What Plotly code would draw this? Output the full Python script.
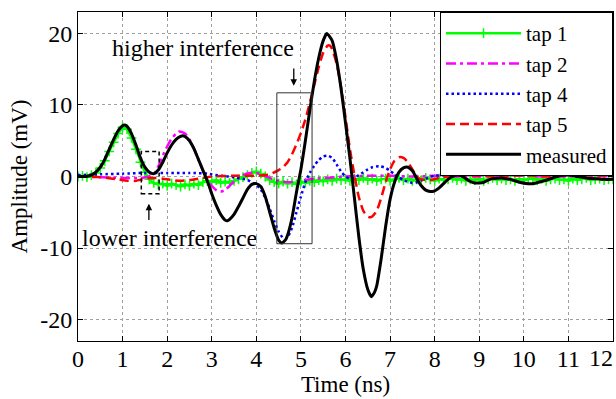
import plotly.graph_objects as go

# ---------------- data ----------------
tap1_t = [0.0, 0.1, 0.2, 0.3, 0.4, 0.5, 0.6, 0.7, 0.8, 0.9, 1.0, 1.1, 1.2, 1.3, 1.4, 1.5,
          1.6, 1.7, 1.8, 1.9, 2.0, 2.1, 2.2, 2.3, 2.4, 2.5, 2.6, 2.7, 2.8, 2.9, 3.0, 3.1,
          3.2, 3.3, 3.4, 3.5, 3.6, 3.7, 3.8, 3.9, 4.0, 4.1, 4.2, 4.3, 4.4, 4.5, 4.6, 4.7,
          4.8, 4.9, 5.0, 5.1, 5.2, 5.3, 5.4, 5.5, 5.6, 5.7, 5.8, 5.9, 6.0, 6.1, 6.2, 6.3,
          6.4, 6.5, 6.6, 6.7, 6.8, 6.9, 7.0, 7.1, 7.2, 7.3, 7.4, 7.5, 7.6, 7.7, 7.8, 7.9,
          8.0, 8.1, 8.2, 8.3, 8.4, 8.5, 8.6, 8.7, 8.8, 8.9, 9.0, 9.1, 9.2, 9.3, 9.4, 9.5,
          9.6, 9.7, 9.8, 9.9, 10.0, 10.1, 10.2, 10.3, 10.4, 10.5, 10.6, 10.7, 10.8, 10.9,
          11.0, 11.1, 11.2, 11.3, 11.4, 11.5, 11.6, 11.7, 11.8, 11.9, 12.0]
tap1_v = [0.0, 0.1, -0.1, 0.2, 0.5, 1.2, 2.2, 3.5, 4.8, 6.0, 6.9, 6.6, 5.4, 3.8, 2.0, 0.6,
          -0.4, -0.9, -1.1, -1.0, -1.3, -1.0, -1.2, -1.4, -1.1, -1.3, -1.0, -1.2, -0.8, -0.6, -0.8, -0.5,
          -0.9, -0.7, -0.9, -0.6, -0.4, -0.1, 0.2, 0.5, 0.7, 0.4, 0.0, -0.5, -0.8, -1.0, -0.7, -1.0,
          -0.8, -1.1, -0.7, -0.9, -0.6, -0.8, -0.5, -0.7, -0.4, -0.6, -0.3, -0.5, -0.4, -0.6, -0.3, -0.5,
          -0.2, -0.5, -0.3, -0.6, -0.4, -0.3, -0.6, -0.4, -0.2, -0.5, -0.3, -0.6, -0.4, -0.5, -0.2, -0.4,
          -0.6, -0.3, -0.5, -0.4, -0.2, -0.5, -0.3, -0.6, -0.4, -0.5, -0.3, -0.6, -0.4, -0.2, -0.5, -0.3,
          -0.5, -0.4, -0.6, -0.3, -0.5, -0.4, -0.2, -0.5, -0.3, -0.6, -0.4, -0.3, -0.5, -0.4,
          -0.6, -0.3, -0.5, -0.4, -0.2, -0.5, -0.4, -0.3, -0.5, -0.4, -0.4]

tap2_t = [0.0, 0.5, 1.0, 1.4, 1.6, 1.7, 1.8, 1.9, 2.0, 2.1, 2.2, 2.27, 2.4, 2.5, 2.6, 2.7,
          2.8, 2.9, 3.0, 3.1, 3.2, 3.3, 3.4, 3.5, 3.6, 3.7, 3.85, 4.0, 4.15, 4.3, 4.5, 4.7,
          4.9, 5.1, 5.3, 5.6, 6.0, 6.5, 7.0, 7.5, 8.0, 8.5, 9.0, 9.5, 10.0, 10.5, 11.0, 11.5, 12.0]
tap2_v = [0.0, -0.1, -0.2, -0.2, 0.0, 0.3, 1.4, 2.9, 4.2, 5.3, 6.0, 6.3, 6.0, 5.2, 3.9, 2.4,
          0.9, -0.4, -1.3, -1.9, -2.1, -1.9, -1.3, -0.7, -0.2, 0.2, 0.5, 0.5, 0.2, -0.2, -0.6, -0.8,
          -0.7, -0.5, -0.3, -0.2, 0.0, 0.1, 0.1, 0.0, 0.1, 0.0, 0.0, 0.1, 0.1, 0.0, 0.0, 0.1, 0.0]

tap4_t = [0.0, 0.5, 1.0, 1.5, 2.0, 2.5, 2.9, 3.2, 3.5, 3.8, 4.0, 4.1, 4.2, 4.3, 4.4, 4.5,
          4.6, 4.65, 4.7, 4.8, 4.9, 5.0, 5.1, 5.2, 5.3, 5.4, 5.5, 5.6, 5.7, 5.8, 5.9, 6.0,
          6.1, 6.2, 6.3, 6.4, 6.5, 6.6, 6.75, 6.9, 7.0, 7.1, 7.2, 7.3, 7.5, 7.6, 7.8, 8.0,
          8.5, 9.0, 10.0, 11.0, 12.0]
tap4_v = [0.2, 0.3, 0.4, 0.5, 0.5, 0.5, 0.4, 0.1, -0.1, -0.5, -1.2, -1.8, -3.0, -4.5, -6.2, -7.7,
          -8.6, -8.7, -8.5, -7.2, -5.0, -2.8, -0.8, 0.5, 1.5, 2.3, 2.8, 2.9, 2.6, 1.7, 0.7, 0.0,
          -0.3, -0.2, 0.2, 0.6, 1.0, 1.3, 1.45, 1.2, 0.8, 0.3, -0.1, -0.5, -0.9, -0.8, -0.3, 0.1,
          0.2, 0.3, 0.3, 0.3, 0.3]

tap5_t = [0.0, 0.5, 0.9, 1.1, 1.3, 1.5, 1.7, 1.9, 2.1, 2.3, 2.5, 2.8, 3.0, 3.5, 4.0, 4.3,
          4.5, 4.6, 4.7, 4.8, 4.9, 5.0, 5.1, 5.2, 5.3, 5.4, 5.5, 5.6, 5.65, 5.7, 5.8, 5.9,
          6.0, 6.1, 6.2, 6.3, 6.4, 6.5, 6.55, 6.6, 6.7, 6.8, 6.9, 7.0, 7.1, 7.2, 7.3, 7.4,
          7.5, 7.6, 7.7, 7.9, 8.1, 8.3, 8.6, 9.0, 9.5, 10.0, 10.5, 11.0, 12.0]
tap5_v = [0.0, -0.1, -0.4, -0.6, -0.6, -0.3, -0.2, -0.3, -0.5, -0.6, -0.5, -0.2, 0.0, 0.1, 0.1, 0.3,
          0.9, 1.3, 2.0, 3.1, 4.5, 6.1, 8.0, 10.3, 12.8, 15.3, 17.3, 18.3, 18.3, 17.8, 15.8, 12.5,
          8.3, 3.8, 0.2, -2.9, -4.8, -5.6, -5.7, -5.6, -4.8, -3.0, -0.8, 1.0, 2.2, 2.7, 2.6, 2.0,
          1.0, 0.0, -0.4, -0.5, -0.2, 0.0, 0.2, 0.1, 0.0, 0.2, 0.0, 0.2, 0.1]

meas_t = [0.0, 0.2, 0.3, 0.4, 0.5, 0.6, 0.7, 0.8, 0.9, 1.0, 1.05, 1.1, 1.2, 1.3, 1.4, 1.5,
          1.6, 1.7, 1.8, 1.9, 2.0, 2.1, 2.2, 2.3, 2.35, 2.4, 2.5, 2.6, 2.7, 2.8, 2.9, 3.0,
          3.1, 3.2, 3.3, 3.35, 3.4, 3.5, 3.6, 3.7, 3.8, 3.9, 4.0, 4.1, 4.2, 4.3, 4.4, 4.5,
          4.57, 4.65, 4.7, 4.8, 4.9, 5.0, 5.1, 5.2, 5.3, 5.4, 5.5, 5.58, 5.7, 5.8, 5.9, 6.0,
          6.1, 6.2, 6.3, 6.4, 6.5, 6.58, 6.65, 6.7, 6.8, 6.9, 7.0, 7.1, 7.2, 7.3, 7.4, 7.5,
          7.6, 7.7, 7.8, 7.9, 8.0, 8.1, 8.2, 8.3, 8.4, 8.5, 8.6, 8.7, 8.8, 8.9, 9.0, 9.1,
          9.2, 9.3, 9.5, 9.7, 9.9, 10.1, 10.2, 10.4, 10.6, 10.8, 11.0, 11.2, 11.4, 11.6, 11.8, 12.0]
meas_v = [0.0, 0.05, 0.2, 0.6, 1.3, 2.4, 3.8, 5.2, 6.4, 7.1, 7.2, 7.0, 6.0, 4.4, 2.6, 1.3,
          0.6, 0.4, 0.9, 2.0, 3.3, 4.4, 5.2, 5.6, 5.7, 5.6, 5.0, 3.9, 2.4, 0.9, -0.6, -2.4,
          -4.0, -5.3, -6.1, -6.2, -6.0, -5.3, -4.2, -3.0, -1.8, -1.1, -1.0, -1.4, -2.8, -5.0, -7.2, -8.9,
          -9.3, -8.9, -8.2, -5.8, -2.2, 1.0, 5.0, 9.3, 13.3, 16.6, 19.0, 20.0, 19.0, 16.3, 12.3, 7.5,
          2.5, -3.0, -8.5, -13.0, -15.8, -16.8, -16.2, -15.3, -11.5, -7.0, -3.2, -0.8, 0.6, 1.2, 1.3, 0.8,
          -0.3, -1.3, -1.9, -2.1, -2.0, -1.6, -1.0, -0.4, 0.0, 0.2, 0.1, -0.3, -0.7, -0.9, -0.9, -0.8,
          -0.5, -0.3, -0.2, -0.4, -0.8, -1.0, -1.0, -0.7, -0.3, 0.1, 0.2, 0.0, -0.2, -0.3, -0.4, -0.4]

x_ticks = [0, 1, 2, 3, 4, 5, 6, 7, 8, 9, 10, 11, 12]
x_tick_labels = ["0", "1", "2", "3", "4", "5", "6", "7", "8", "9", "10", "11", "12"]
y_ticks = [-20, -10, 0, 10, 20]

FONT = "Liberation Serif, Times New Roman, serif"

fig = go.Figure()
fig.add_trace(go.Scatter(x=tap1_t, y=tap1_v, name="tap 1", mode="lines+markers",
                         line=dict(color="#00ff00", width=2.5),
                         marker=dict(symbol="cross-thin", size=7,
                                     line=dict(color="#00ff00", width=1.5))))
fig.add_trace(go.Scatter(x=tap2_t, y=tap2_v, name="tap 2", mode="lines",
                         line=dict(color="#ff00ff", width=2.5, dash="10px,4px,3px,4px",
                                   shape="spline", smoothing=0.6)))
fig.add_trace(go.Scatter(x=tap4_t, y=tap4_v, name="tap 4", mode="lines",
                         line=dict(color="#0000ff", width=2.5, dash="2.5px,3px",
                                   shape="spline", smoothing=0.6)))
fig.add_trace(go.Scatter(x=tap5_t, y=tap5_v, name="tap 5", mode="lines",
                         line=dict(color="#ff0000", width=2.5, dash="9px,5px",
                                   shape="spline", smoothing=0.6)))
fig.add_trace(go.Scatter(x=meas_t, y=meas_v, name="measured", mode="lines",
                         line=dict(color="#000000", width=3, shape="spline", smoothing=0.5)))

# interference boxes
fig.add_shape(type="rect", xref="x", yref="y", x0=4.46, x1=5.25, y0=-9.4, y1=11.7,
              line=dict(color="#333333", width=1), layer="above")
fig.add_shape(type="rect", xref="x", yref="y", x0=1.42, x1=1.82, y0=-2.4, y1=3.5,
              line=dict(color="#000000", width=1.5, dash="4px,3px"), layer="above")

fig.add_annotation(x=2.81, y=18.0, xref="x", yref="y", text="higher interference",
                   showarrow=False, font=dict(family=FONT, size=24, color="black"))
fig.add_annotation(x=2.06, y=-8.6, xref="x", yref="y", text="lower interference",
                   showarrow=False, font=dict(family=FONT, size=24, color="black"))
# arrows pointing at the boxes
fig.add_annotation(x=4.84, y=12.7, ax=4.84, ay=15.3, xref="x", yref="y", axref="x", ayref="y",
                   text="", showarrow=True, arrowhead=2, arrowsize=1, arrowwidth=1.3,
                   arrowcolor="black", standoff=0, startstandoff=0)
fig.add_annotation(x=1.59, y=-3.8, ax=1.59, ay=-6.3, xref="x", yref="y", axref="x", ayref="y",
                   text="", showarrow=True, arrowhead=2, arrowsize=1, arrowwidth=1.3,
                   arrowcolor="black", standoff=0, startstandoff=0)

# last x tick label, nudged left so it stays inside the page (as in the original)
fig.add_annotation(x=1, y=0, xref="paper", yref="paper", xanchor="right", yanchor="top",
                   xshift=2, yshift=-2, text=x_tick_labels[-1], showarrow=False,
                   font=dict(family=FONT, size=24, color="black"))

axis_common = dict(showline=True, linecolor="black", linewidth=1, mirror="ticks",
                   ticks="inside", ticklen=5, tickcolor="black", tickwidth=1,
                   showgrid=True, gridcolor="#a0a0a0", gridwidth=1, griddash="dot",
                   zeroline=False, automargin=False, ticklabeloverflow="allow",
                   tickfont=dict(family=FONT, size=24, color="black"))

fig.update_xaxes(range=[0, 12], tickvals=x_ticks, ticktext=x_tick_labels[:-1] + [""],
                 ticklabelstandoff=-4,
                 title=dict(text="Time (ns)", font=dict(family=FONT, size=23, color="black"),
                            standoff=0),
                 **axis_common)
fig.update_yaxes(range=[-23, 23], tickvals=y_ticks, ticktext=[str(v) for v in y_ticks],
                 title=dict(text="Amplitude (mV)", font=dict(family=FONT, size=23, color="black"),
                            standoff=6),
                 **axis_common)

fig.update_layout(
    width=616, height=399,
    margin=dict(l=78, r=3, t=12, b=58),
    paper_bgcolor="white", plot_bgcolor="white",
    font=dict(family=FONT, size=22, color="black"),
    legend=dict(x=1, y=1, xanchor="right", yanchor="top", bgcolor="white",
                bordercolor="black", borderwidth=1, itemwidth=75,
                font=dict(family=FONT, size=21, color="black"), tracegroupgap=0),
    showlegend=True,
)

fig.write_html("out.html", config={"displayModeBar": False},
               post_script="document.body.style.margin='0';")
